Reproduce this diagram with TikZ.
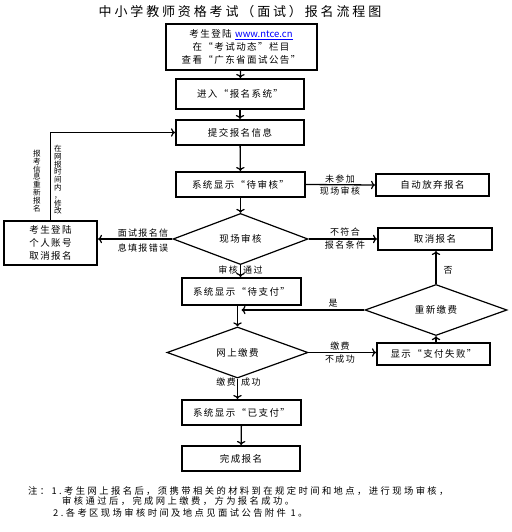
\documentclass[tikz,border=0pt]{standalone}
\usepackage{fontspec}
\setmainfont[LetterSpace=15]{Noto Sans CJK SC}
\usetikzlibrary{shapes.geometric,arrows.meta}
\begin{document}
\begin{tikzpicture}[x=1pt,y=-1pt,
  box/.style={draw,line width=2pt,fill=white,inner sep=0pt,align=center,font=\fontsize{9.5}{13}\selectfont},
  dia/.style={draw,diamond,line width=1.2pt,inner sep=0pt,align=center,font=\fontsize{9.5}{13}\selectfont},
  arr/.style={line width=1.3pt,-{To[length=4pt,width=8.5pt,line width=1.2pt]}},
  lbl/.style={font=\fontsize{9}{11}\selectfont,inner sep=0pt,align=center},
  vlbl/.style={font=\fontsize{7.6}{7.8}\selectfont,inner sep=0pt,align=center},
  note/.style={inner sep=0pt,anchor=west,font=\fontsize{9.3}{10}\selectfont\addfontfeature{LetterSpace=26}}]
\useasboundingbox (0,0) rectangle (511,532);
\node[font=\fontsize{13}{15}\selectfont\addfontfeature{LetterSpace=22}] (title) at (240,12) {中小学教师资格考试（面试）报名流程图};
\node[box,minimum width=151,minimum height=46] (b1) at (241,47) {考生登陆 \textcolor{blue}{\underline{\addfontfeature{LetterSpace=0}www.ntce.cn}}\\在“考试动态”栏目\\查看“广东省面试公告”};
\node[box,minimum width=128,minimum height=30] (b2) at (240,94) {进入“报名系统”};
\node[box,minimum width=128,minimum height=25] (b3) at (240,132.5) {提交报名信息};
\node[box,minimum width=129,minimum height=25] (b4) at (240.5,184.5) {系统显示“待审核”};
\node[box,minimum width=113,minimum height=22] (auto) at (432.5,185) {自动放弃报名};
\node[dia,minimum width=135,minimum height=50] (d1) at (240.5,239) {现场审核};
\node[box,minimum width=93,minimum height=44] (lb) at (50.5,243) {考生登陆\\个人账号\\取消报名};
\node[box,minimum width=114,minimum height=22] (cancel) at (435,239) {取消报名};
\node[box,minimum width=119,minimum height=27] (pay) at (241.5,291.5) {系统显示“待支付”};
\node[dia,minimum width=142,minimum height=36] (rd) at (436,310) {重新缴费};
\node[dia,minimum width=141,minimum height=39] (d2) at (237.5,352.5) {网上缴费};
\node[box,minimum width=113,minimum height=22] (fail) at (433.5,354) {显示“支付失败”};
\node[box,minimum width=119,minimum height=25] (paid) at (241.5,412.5) {系统显示“已支付”};
\node[box,minimum width=118,minimum height=25] (done) at (241,458.5) {完成报名};
% connectors
\draw[arr] (b1) -- (b2);
\draw[arr] (b2) -- (b3);
\draw[arr] (b3) -- (b4);
\draw[arr] (b4.east) -- (auto.west);
\draw[arr] (b4) -- (d1);
\draw[arr] (d1.west) -- (d1.west -| lb.east);
\draw[arr] (lb.north) |- (b3.west);
\draw[arr] (d1.east) -- (d1.east -| cancel.west);
\draw[arr] (d1.south) -- (pay.north -| d1.south);
\draw[arr] (pay.south -| d2.north) -- (d2.north);
\draw[arr] (d2.east) -- (d2.east -| fail.west);
\draw[arr] (fail.north -| rd.south) -- (rd.south);
\draw[arr] (rd.north) -- (rd.north |- cancel.south);
\coordinate (yes) at (rd.west -| pay.south);
\draw[arr] (rd.west) -- (yes);
\draw[arr] (d2.south) -- (paid.north -| d2.south);
\draw[arr] (paid) -- (done);
% labels
\node[lbl] (l1) at (340,179) {未参加};
\node[lbl] (l2) at (340,191) {现场审核};
\node[lbl] (l3) at (143,233) {面试报名信};
\node[lbl] (l4) at (143,248) {息填报错误};
\node[lbl] (l5) at (345,232) {不符合};
\node[lbl] (l6) at (345,245) {报名条件};
\node[lbl,anchor=east] (l7) at (238,270) {审核};
\node[lbl,anchor=west] (l8) at (243,270) {通过};
\node[lbl] (l9) at (448,270) {否};
\node[lbl] (l10) at (333,303) {是};
\node[lbl] (l11) at (340,346) {缴费};
\node[lbl] (l12) at (340,359) {不成功};
\node[lbl,anchor=east] (l13) at (236,382) {缴费};
\node[lbl,anchor=west] (l14) at (241,382) {成功};
\node[vlbl,anchor=north] (v1) at (58,145) {在\\网\\报\\时\\间\\内\\，\\修\\改};
\node[vlbl,anchor=north] (v2) at (37,150) {报\\考\\信\\息\\重\\新\\报\\名};
% notes
\node[note] (n1) at (28,491) {注：1.考生网上报名后，须携带相关的材料到在规定时间和地点，进行现场审核，};
\node[note] (n2) at (62,501) {审核通过后，完成网上缴费，方为报名成功。};
\node[note] (n3) at (53,513) {2.各考区现场审核时间及地点见面试公告附件 1。};
\end{tikzpicture}
\end{document}
